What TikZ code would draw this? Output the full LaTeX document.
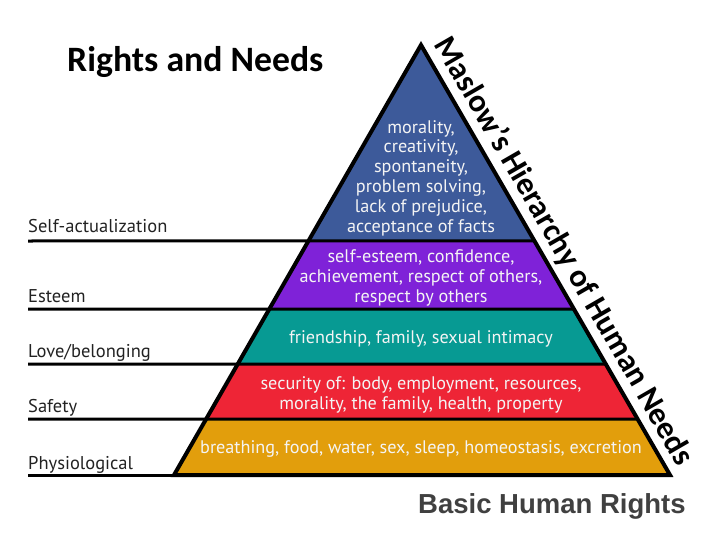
\documentclass[tikz,border=0pt]{standalone}
\usepackage{fontspec}
\setmainfont{PT Sans}
\newfontfamily\calibrifont{Carlito}
\newfontfamily\arialfont{Liberation Sans}
\usetikzlibrary{calc}
\definecolor{lvlblue}{HTML}{3D5A9A}
\definecolor{lvlpurple}{HTML}{7F22D8}
\definecolor{lvlteal}{HTML}{079A93}
\definecolor{lvlred}{HTML}{EE2536}
\definecolor{lvlorange}{HTML}{E29E0C}
\definecolor{lbltext}{HTML}{222222}
\definecolor{graytext}{HTML}{404040}
\definecolor{intext}{HTML}{F4F4F4}
\begin{document}
\begin{tikzpicture}[x=1pt,y=-1pt,
  divider/.style={line width=3pt, black},
  outline/.style={line width=4pt, black, line join=miter},
  lvllabel/.style={anchor=base west, inner sep=0pt, text=lbltext, font=\fontsize{18.5}{22}\selectfont},
  intxt/.style={align=center, inner sep=0pt, text=intext, font=\fontsize{18.2}{19.8}\selectfont}
]
\useasboundingbox (0,0) rectangle (720,540);
\coordinate (apex) at (421,45);
\coordinate (bl) at (174,475);
\coordinate (br) at (670,475);
\coordinate (l1) at ($(apex)!0.4558!(bl)$);
\coordinate (r1) at ($(apex)!0.4558!(br)$);
\coordinate (l2) at ($(apex)!0.6140!(bl)$);
\coordinate (r2) at ($(apex)!0.6140!(br)$);
\coordinate (l3) at ($(apex)!0.7419!(bl)$);
\coordinate (r3) at ($(apex)!0.7419!(br)$);
\coordinate (l4) at ($(apex)!0.8698!(bl)$);
\coordinate (r4) at ($(apex)!0.8698!(br)$);
% bands
\fill[lvlblue] (apex) -- (r1) -- (l1) -- cycle;
\fill[lvlpurple] (l1) -- (r1) -- (r2) -- (l2) -- cycle;
\fill[lvlteal] (l2) -- (r2) -- (r3) -- (l3) -- cycle;
\fill[lvlred] (l3) -- (r3) -- (r4) -- (l4) -- cycle;
\fill[lvlorange] (l4) -- (r4) -- (br) -- (bl) -- cycle;
% left lines
\coordinate (s1) at (28,241);
\coordinate (s2) at (28,309);
\coordinate (s3) at (28,364);
\coordinate (s4) at (28,419);
\coordinate (s5) at (28,475);
\draw[divider] (s1) -- (l1) -- (r1);
\draw[divider] (s2) -- (l2) -- (r2);
\draw[divider] (s3) -- (l3) -- (r3);
\draw[divider] (s4) -- (l4) -- (r4);
\draw[divider] (s5) -- (bl);
\draw[outline] (apex) -- (br) -- (bl) -- cycle;
% level labels
\node[lvllabel] (lself) at (28,233) {Self-actualization};
\node[lvllabel] (lest) at (28,302) {Esteem};
\node[lvllabel] (llove) at (28,357) {Love/belonging};
\node[lvllabel] (lsafe) at (28,412) {Safety};
\node[lvllabel] (lphys) at (28,469) {Physiological};
% inner texts
\node[intxt] (tblue) at (421,178) {morality,\\creativity,\\spontaneity,\\problem solving,\\lack of prejudice,\\acceptance of facts};
\node[intxt] (tpurple) at (421,278) {self-esteem, confidence,\\achievement, respect of others,\\respect by others};
\node[intxt] (tteal) at (421,339) {friendship, family, sexual intimacy};
\node[intxt] (tred) at (421,395) {security of: body, employment, resources,\\morality, the family, health, property};
\node[intxt] (torange) at (421,449) {breathing, food, water, sex, sleep, homeostasis, excretion};
% titles
\node[anchor=base west, inner sep=0pt, font=\calibrifont\bfseries\fontsize{35.7}{40}\selectfont] (title) at (67,72) {Rights and Needs};
\node[anchor=base west, inner sep=0pt, text=graytext, font=\arialfont\bfseries\fontsize{27.5}{32}\selectfont] (basic) at (418,513) {Basic Human Rights};
\node[anchor=base, inner sep=0pt, rotate=-60, font=\calibrifont\bfseries\fontsize{32}{38}\selectfont] (maslow) at (555.9,255.8) {Maslow’s Hierarchy of Human Needs};
\end{tikzpicture}
\end{document}
